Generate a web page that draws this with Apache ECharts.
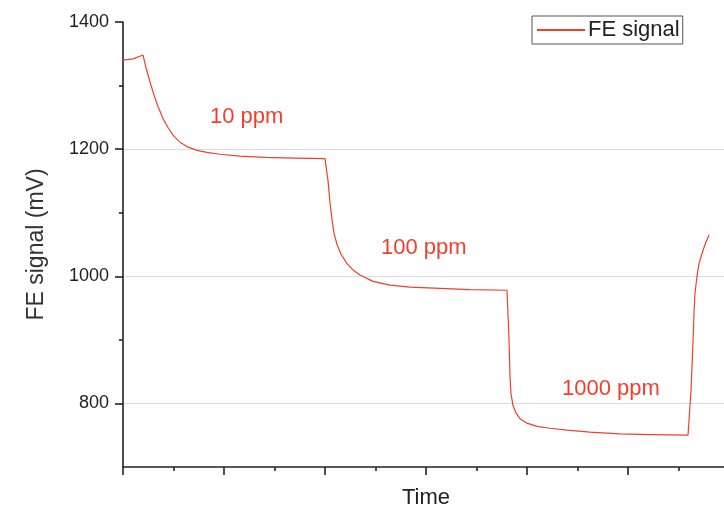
<!DOCTYPE html>
<html>
<head>
<meta charset="utf-8">
<script src="https://cdn.jsdelivr.net/npm/echarts@6/dist/echarts.min.js"></script>
<style>
html,body{margin:0;padding:0;background:#fff;}
#chart{width:724px;height:508px;}
</style>
</head>
<body>
<div id="chart"></div>
<script>
// time in arbitrary units (one major tick = 1), signal in mV
var timeValues = [0, 0.10, 0.198, 0.228, 0.267, 0.307, 0.347, 0.396, 0.446, 0.495, 0.564, 0.634, 0.733, 0.832, 0.960, 1.158, 1.406, 1.703, 2.0,
    2.010, 2.030, 2.050, 2.069, 2.089, 2.119, 2.158, 2.218, 2.277, 2.347, 2.475, 2.644, 2.842, 3.139, 3.436, 3.802,
    3.812, 3.822, 3.832, 3.842, 3.861, 3.891, 3.931, 4.0, 4.099, 4.228, 4.396, 4.624, 4.921, 5.218, 5.594,
    5.604, 5.624, 5.644, 5.653, 5.663, 5.683, 5.703, 5.743, 5.772, 5.802];
var signalValues = [1340, 1342, 1348, 1328, 1306, 1285, 1267, 1248, 1234, 1222, 1211, 1204, 1198, 1195, 1192, 1189, 1187, 1186, 1185,
    1185, 1150, 1115, 1090, 1068, 1050, 1035, 1020, 1010, 1002, 992, 986, 983, 981, 979, 978,
    978, 900, 840, 815, 797, 785, 776, 769, 764, 761, 758, 755, 752, 751, 750,
    750, 820, 899, 940, 973, 1000, 1020, 1041, 1054, 1065];
var yMajorTicks = [800, 1000, 1200, 1400];
var yMinorTicks = [900, 1100, 1300];
var concLabels = ['10 ppm', '100 ppm', '1000 ppm'];

var fontFam = '"Liberation Sans", Arial, sans-serif';
var red = '#f0402c';

var seriesData = [];
for (var i = 0; i < timeValues.length; i++) {
    seriesData.push([timeValues[i], signalValues[i]]);
}

var myChart = echarts.init(document.getElementById('chart'));
var option = {
    backgroundColor: '#fff',
    animation: false,
    grid: {left: 123, right: -5, top: 22, bottom: 41, outerBoundsMode: 'none'},
    legend: {
        left: 532, top: 16,
        data: ['FE signal'],
        icon: 'rect',
        itemWidth: 48, itemHeight: 2,
        padding: [3, 3, 3, 5],
        borderColor: '#555', borderWidth: 1,
        textStyle: {fontFamily: fontFam, fontSize: 22, color: '#222', padding: [0, 0, 0, -2]}
    },
    xAxis: {
        type: 'value', min: 0, max: 6, interval: 1,
        name: 'Time', nameLocation: 'middle', nameGap: 20,
        nameTextStyle: {fontFamily: fontFam, fontSize: 22, color: '#222'},
        axisLine: {lineStyle: {color: '#222', width: 1.6}},
        axisTick: {length: 8, lineStyle: {color: '#222', width: 1.6}},
        minorTick: {show: true, splitNumber: 2, length: 4, lineStyle: {color: '#222', width: 1.6}},
        axisLabel: {show: false},
        splitLine: {show: false}
    },
    yAxis: [{
        type: 'value', min: 700, max: 1400, interval: 100,
        name: 'FE signal (mV)', nameLocation: 'middle', nameGap: 75,
        nameTextStyle: {fontFamily: fontFam, fontSize: 23, color: '#333'},
        axisLine: {show: true, lineStyle: {color: '#222', width: 1.6}},
        axisTick: {customValues: yMajorTicks, length: 8, lineStyle: {color: '#222', width: 1.6}},
        axisLabel: {
            customValues: yMajorTicks, margin: 14,
            fontFamily: fontFam, fontSize: 18, color: '#222',
            formatter: function (v) { return String(v); }
        },
        splitLine: {
            show: true, showMaxLine: false,
            lineStyle: {color: '#dcdcdc', width: 1.2}
        }
    }, {
        type: 'value', min: 700, max: 1400, interval: 100, position: 'left',
        axisLine: {show: false},
        axisTick: {customValues: yMinorTicks, length: 4, lineStyle: {color: '#222', width: 1.6}},
        axisLabel: {show: false},
        splitLine: {show: false}
    }],
    graphic: [
        {type: 'text', left: 210, top: 106, style: {text: concLabels[0], fontFamily: fontFam, fontSize: 22, fill: red}},
        {type: 'text', left: 381, top: 237, style: {text: concLabels[1], fontFamily: fontFam, fontSize: 22, fill: red}},
        {type: 'text', left: 562, top: 378, style: {text: concLabels[2], fontFamily: fontFam, fontSize: 22, fill: red}}
    ],
    series: [{
        name: 'FE signal',
        type: 'line',
        data: seriesData,
        showSymbol: false,
        color: red,
        lineStyle: {color: red, width: 1.2}
    }]
};
myChart.setOption(option);
</script>
</body>
</html>
